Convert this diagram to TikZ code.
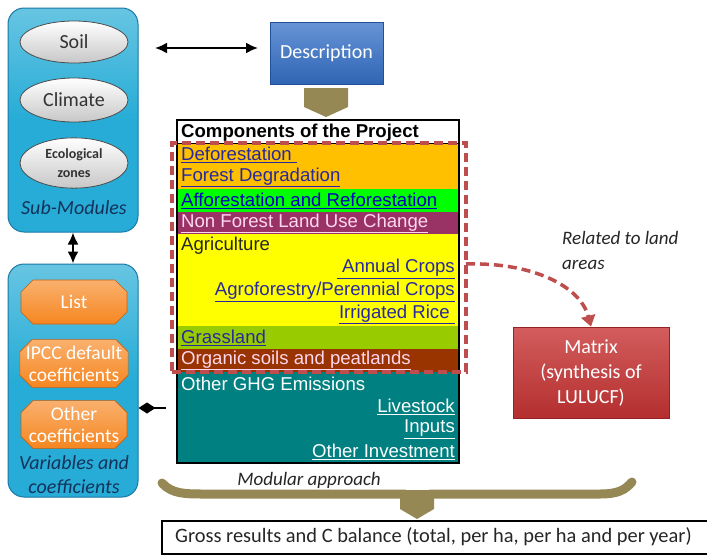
\documentclass[tikz,border=0pt]{standalone}
\usepackage{fontspec}
\setmainfont{Carlito}
\newfontfamily\arialfont{Liberation Sans}
\usetikzlibrary{shapes.misc,shapes.geometric,arrows.meta}
\definecolor{panelc}{RGB}{38,172,214}
\definecolor{paneld}{RGB}{25,120,165}
\definecolor{orangec}{RGB}{246,134,32}
\definecolor{oranged}{RGB}{200,95,15}
\definecolor{olivec}{RGB}{150,136,84}
\definecolor{descc}{RGB}{52,112,200}
\definecolor{descd}{RGB}{35,80,150}
\definecolor{matc}{RGB}{200,52,52}
\definecolor{matd}{RGB}{150,35,35}
\definecolor{dashc}{RGB}{190,78,78}
\definecolor{rowor}{RGB}{255,192,0}
\definecolor{rowgr}{RGB}{0,255,0}
\definecolor{rowpu}{RGB}{153,51,102}
\definecolor{rowye}{RGB}{255,255,0}
\definecolor{rowgl}{RGB}{153,204,0}
\definecolor{rowbr}{RGB}{153,51,0}
\definecolor{rowte}{RGB}{0,128,128}
\definecolor{linkc}{RGB}{40,40,160}
\definecolor{pinkc}{RGB}{255,215,240}
\definecolor{titlec}{RGB}{20,50,90}
\tikzset{
  panel/.style={draw=paneld, line width=1pt, rounded corners=16pt, top color=panelc!70!white, bottom color=panelc, middle color=panelc, minimum width=130pt},
  ell/.style={ellipse, draw=black!70, line width=0.8pt, top color=white, bottom color=black!22, minimum width=108pt, font=\fontsize{20}{22}\selectfont, text=black!80},
  oct/.style={chamfered rectangle, chamfered rectangle xsep=6pt, chamfered rectangle ysep=6pt, draw=oranged, line width=0.6pt, top color=orangec!65!white, bottom color=orangec, minimum width=106pt, text=white, align=center, font=\fontsize{19.5}{22}\selectfont, inner sep=0pt},
  ptitle/.style={font=\itshape\fontsize{20}{24}\selectfont, text=titlec, align=center},
  rowtxt/.style={font=\arialfont\fontsize{18.6}{20}\selectfont, inner sep=0pt},
  dbl/.style={{Latex[length=12pt,width=11pt]}-{Latex[length=12pt,width=11pt]}, line width=2pt},
}
\begin{document}
\begin{tikzpicture}[x=1pt,y=-1pt]
\useasboundingbox (0,0) rectangle (707,555);
\fill[white] (0,0) rectangle (707,555);

% left panels
\node[panel, minimum height=224pt] (sub) at (73,120) {};
\node[ell, minimum height=42pt] (soil) at (74,42) {Soil};
\node[ell, minimum height=44pt] (clim) at (74,100) {Climate};
\node[ell, minimum height=46pt, align=center, font=\bfseries\fontsize{14}{19}\selectfont] (eco) at (74,163) {Ecological\\zones};
\node[ptitle] (subt) at (74,208) {Sub-Modules};

\node[panel, minimum height=233pt] (var) at (73,380.5) {};
\node[oct, minimum height=44pt] (list) at (74,302) {List};
\node[oct, minimum height=46pt] (ipcc) at (74,363.5) {IPCC default\\coefficients};
\node[oct, minimum height=46pt] (oth) at (74,424.5) {Other\\coefficients};
\node[ptitle, font=\itshape\fontsize{20}{24}\selectfont] (vart) at (74,475) {Variables and\\coefficients};

\draw[dbl] (sub.south) -- (var.north);

% description
\node[draw=descd, line width=0.8pt, top color=descc!75!white, bottom color=descc!90!black, minimum width=113pt, minimum height=62pt, text=white, font=\fontsize{20}{22}\selectfont] (desc) at (326.5,53) {Description};
\coordinate (dl) at (155,48);
\draw[dbl] (dl) -- (258,48);

% olive arrow
\fill[olivec] (304,88) -- (348,88) -- (348,107) -- (326,117) -- (304,107) -- cycle;

% table
\fill[white] (177,120) rectangle (459,143);
\fill[rowor] (177,143) rectangle (459,188.6);
\fill[rowgr] (177,188.6) rectangle (459,211.5);
\fill[rowpu] (177,211.5) rectangle (459,234.4);
\fill[rowye] (177,234.4) rectangle (459,326);
\fill[rowgl] (177,326) rectangle (459,349);
\fill[rowbr] (177,349) rectangle (459,372);
\fill[rowte] (177,372) rectangle (459,463);
\draw[line width=1.3pt] (177,120) rectangle (459,463);
\draw[line width=0.8pt] (177,143) -- (459,143);

\node[rowtxt, anchor=west, font=\arialfont\bfseries\fontsize{18.6}{20}\selectfont] (comp) at (181,132.5) {Components of the Project};
\node[rowtxt, anchor=west, text=linkc] (r1) at (181,155) {\underline{Deforestation\ }};
\node[rowtxt, anchor=west, text=linkc] (r2) at (181,177.5) {\underline{Forest Degradation}};
\node[rowtxt, anchor=west, text=blue!75!black] (r3) at (181,200.5) {\underline{Afforestation and Reforestation}};
\node[rowtxt, anchor=west, text=pinkc] (r4) at (181,223.5) {\underline{Non Forest Land Use Change}};
\node[rowtxt, anchor=west, text=black!85] (r5) at (181,246) {Agriculture};
\node[rowtxt, anchor=east, text=linkc] (r6) at (455,269) {\underline{\ Annual Crops}};
\node[rowtxt, anchor=east, text=linkc] (r7) at (455,292) {\underline{Agroforestry/Perennial Crops}};
\node[rowtxt, anchor=east, text=linkc] (r8) at (455,314.5) {\underline{Irrigated Rice\ }};
\node[rowtxt, anchor=west, text=linkc] (r9) at (181,337.5) {\underline{Grassland}};
\node[rowtxt, anchor=west, text=pinkc] (r10) at (181,360.5) {\underline{Organic soils and peatlands}};
\node[rowtxt, anchor=west, text=white] (r11) at (181,383.5) {Other GHG Emissions};
\node[rowtxt, anchor=east, text=white] (r12) at (455,406.5) {\underline{Livestock}};
\node[rowtxt, anchor=east, text=white] (r13) at (455,429.5) {\underline{Inputs}};
\node[rowtxt, anchor=east, text=white] (r14) at (455,452) {\underline{Other Investment}};

% dashed frame
\node[draw=dashc, line width=3.5pt, dash pattern=on 9pt off 5pt, minimum width=294pt, minimum height=229pt, inner sep=0pt] (frame) at (319,257.5) {};

% matrix
\node[draw=matd, line width=0.8pt, top color=matc!80!white, bottom color=matc!90!black, minimum width=156pt, minimum height=91pt, text=white, align=center, font=\fontsize{20}{25}\selectfont] (matrix) at (591,372.5) {Matrix\\(synthesis of\\LULUCF)};
\coordinate (fr) at (466,264);
\draw[dashc, line width=3.5pt, dash pattern=on 9pt off 5pt, -{Triangle[length=11pt,width=14pt]}] (fr) .. controls (530,262) and (580,285) .. (matrix.north);
\node[anchor=north west, align=left, font=\itshape\fontsize{19}{25}\selectfont, text=black!85, inner sep=0pt] (rel) at (562,231) {Related to land\\areas};

% diamond connector
\coordinate (dm) at (166,408);
\draw[line width=1.5pt, -{Diamond[length=17pt,width=11pt]}] (dm) -- (var.east |- dm);

% brace
\draw[olivec, line width=9pt, line cap=round] (162,483) .. controls (172,494) and (185,494) .. (205,494) -- (405,494);
\draw[olivec, line width=9pt, line cap=round] (430,494) -- (600,494) .. controls (618,494) and (625,490) .. (632,482);
\fill[olivec] (400,490) -- (434,490) -- (434,509) -- (417,519) -- (400,509) -- cycle;
\node[font=\itshape\fontsize{19}{22}\selectfont, text=black!85] (mod) at (309,480) {Modular approach};

% result
\node[draw, line width=1.5pt, minimum width=556pt, minimum height=33pt, anchor=north west, inner sep=0pt] (res) at (161,520) {};
\node[anchor=west, font=\fontsize{20.4}{22}\selectfont, text=black!85, inner sep=0pt] (rest) at (175,537) {Gross results and C balance (total, per ha, per ha and per year)};
\end{tikzpicture}
\end{document}
